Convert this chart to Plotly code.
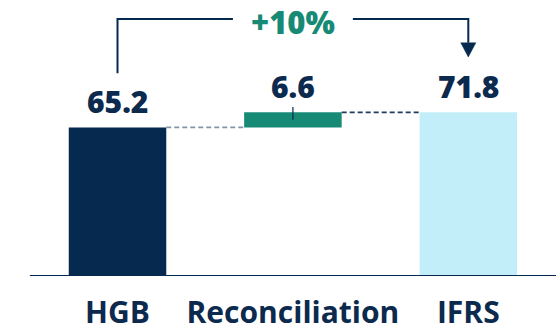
import plotly.graph_objects as go

# Bridge from HGB to IFRS
categories = ["HGB", "Reconciliation", "IFRS"]
values = [65.2, 6.6, 71.8]
kinds = ["total", "delta", "total"]

NAVY = "#05294f"
GREEN = "#178a76"
LIGHT = "#c2eefa"
TEXT = "#0b2a4e"
FONT = "Open Sans"

bar_colors = [NAVY, GREEN, LIGHT]

# bases: totals start at zero, the delta sits on top of the previous total
bases = []
running = 0.0
for v, k in zip(values, kinds):
    if k == "total":
        bases.append(0.0)
        running = v
    else:
        bases.append(running)
        running += v
tops = [b + v for b, v in zip(bases, values)]
xs = list(range(len(categories)))
bar_w = 0.556

fig = go.Figure()
fig.add_trace(go.Bar(
    x=xs, y=values, base=bases, width=bar_w,
    marker=dict(color=bar_colors, line=dict(width=0)),
    hoverinfo="skip",
))

shapes = []
# baseline
shapes.append(dict(type="line", xref="x", yref="y", x0=-0.5, x1=2.6, y0=0, y1=0,
                   line=dict(color=NAVY, width=2)))
# dashed connectors between bars
conn_colors = ["#8395a9", "#1f3b62"]
for i in range(len(xs) - 1):
    level = tops[i]
    shapes.append(dict(type="line", xref="x", yref="y",
                       x0=xs[i] + bar_w / 2, x1=xs[i + 1] - bar_w / 2,
                       y0=level, y1=level,
                       line=dict(color=conn_colors[i], width=1.6, dash="5px,3px")))
# leader tick on the delta bar
shapes.append(dict(type="line", xref="x", yref="y", x0=xs[1], x1=xs[1],
                   y0=tops[1] - 3.2, y1=tops[1] + 2.4,
                   line=dict(color=NAVY, width=1.2)))

# growth bracket from first to last total
bracket_y = max(tops) + 41.0
left_y = tops[0] + 23.8
tip_y = tops[2] + 24.3
gap = 0.342
mid = (xs[0] + xs[2]) / 2
head_h = 6.2
head_w = 0.043
shapes.append(dict(type="path", xref="x", yref="y",
                   path=f"M {xs[0]},{left_y} L {xs[0]},{bracket_y} L {mid - gap},{bracket_y}",
                   line=dict(color=NAVY, width=2)))
shapes.append(dict(type="path", xref="x", yref="y",
                   path=f"M {mid + gap},{bracket_y} L {xs[2]},{bracket_y} L {xs[2]},{tip_y + head_h}",
                   line=dict(color=NAVY, width=2)))
shapes.append(dict(type="path", xref="x", yref="y",
                   path=f"M {xs[2] - head_w},{tip_y + head_h} L {xs[2] + head_w},{tip_y + head_h} L {xs[2]},{tip_y} Z",
                   fillcolor=NAVY, line=dict(color=NAVY, width=0.5)))

annotations = []
for x, t, v in zip(xs, tops, values):
    annotations.append(dict(x=x, y=t, xref="x", yref="y", text=f"{v:.1f}",
                            showarrow=False, yanchor="bottom", yshift=3,
                            font=dict(family=FONT, size=30, color=TEXT, weight=800)))
growth = (values[2] / values[0] - 1) * 100
annotations.append(dict(x=mid, y=bracket_y, xref="x", yref="y",
                        text=f"+{growth:.0f}%", showarrow=False,
                        yanchor="middle", yshift=-3,
                        font=dict(family=FONT, size=31, color=GREEN, weight=800)))

fig.update_layout(
    width=556, height=331,
    margin=dict(l=0, r=0, t=0, b=55),
    paper_bgcolor="white", plot_bgcolor="white",
    showlegend=False,
    shapes=shapes, annotations=annotations,
    xaxis=dict(range=[-0.67, 2.5], tickvals=xs, ticktext=categories,
               showgrid=False, zeroline=False, showline=False, ticks="",
               automargin=False, ticklabelstandoff=16,
               tickfont=dict(family=FONT, size=30, color=TEXT, weight=700)),
    yaxis=dict(range=[0, 121.1], visible=False, fixedrange=True),
)

fig.write_html("out.html")
